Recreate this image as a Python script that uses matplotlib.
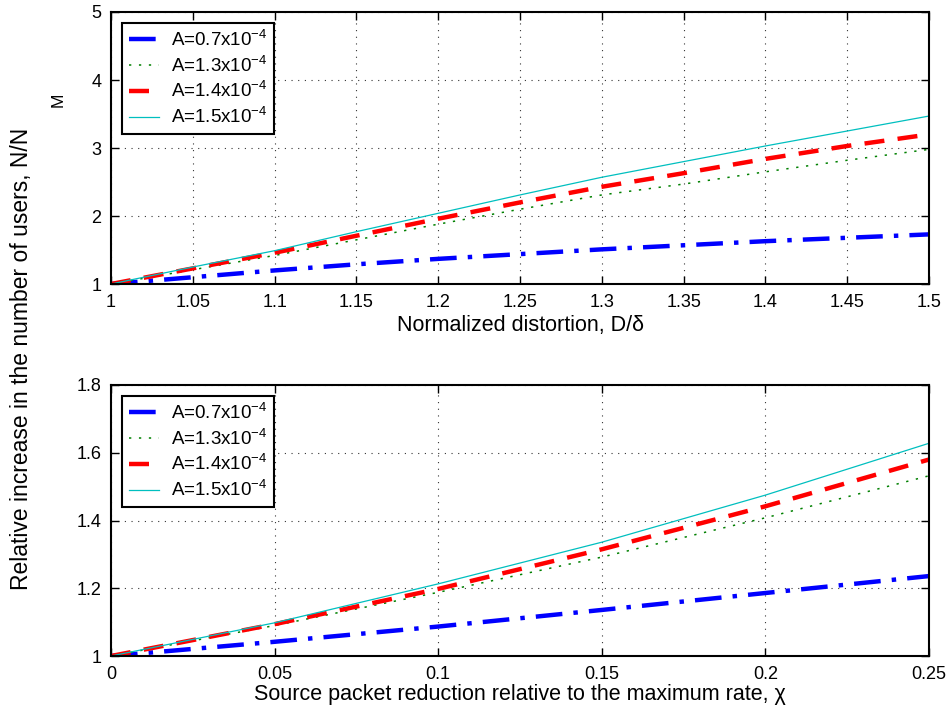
import numpy as np
import matplotlib
matplotlib.use("Agg")
import matplotlib.pyplot as plt

plt.rcParams['font.family'] = ['Liberation Sans', 'DejaVu Sans']
plt.rcParams['mathtext.fontset'] = 'custom'
plt.rcParams['mathtext.rm'] = 'Liberation Sans'
plt.rcParams['mathtext.it'] = 'Liberation Sans:italic'

# top panel: normalized distortion D/delta
dist = [1.0, 1.05, 1.1, 1.15, 1.2, 1.25, 1.3, 1.35, 1.4, 1.45, 1.5]
top_a07 = [1.0, 1.10, 1.20, 1.29, 1.37, 1.44, 1.51, 1.57, 1.63, 1.68, 1.73]
top_a13 = [1.0, 1.21, 1.42, 1.65, 1.88, 2.10, 2.31, 2.47, 2.65, 2.82, 2.98]
top_a14 = [1.0, 1.23, 1.46, 1.71, 1.96, 2.20, 2.43, 2.63, 2.84, 3.03, 3.20]
top_a15 = [1.0, 1.25, 1.49, 1.77, 2.04, 2.31, 2.57, 2.80, 3.03, 3.25, 3.47]

# bottom panel: source packet reduction chi
chi = [0.0, 0.05, 0.1, 0.15, 0.2, 0.25]
bot_a07 = [1.0, 1.042, 1.087, 1.136, 1.186, 1.236]
bot_a13 = [1.0, 1.090, 1.188, 1.292, 1.408, 1.532]
bot_a14 = [1.0, 1.094, 1.198, 1.315, 1.442, 1.580]
bot_a15 = [1.0, 1.098, 1.213, 1.336, 1.475, 1.628]

labels = [r'A=0.7x10$^{\mathregular{-4}}$', r'A=1.3x10$^{\mathregular{-4}}$',
          r'A=1.4x10$^{\mathregular{-4}}$', r'A=1.5x10$^{\mathregular{-4}}$']
colors = ['#0000ff', '#008000', '#ff0000', '#00bfbf']
styles = [(0, (6, 2.5, 1, 2.5)), (0, (1.5, 5)), (0, (4.5, 3)), '-']
widths = [3.2, 1.1, 3.2, 0.9]

fig = plt.figure(figsize=(9.51, 7.14), dpi=100)
ax1 = fig.add_axes([0.1167, 0.6022, 0.8602, 0.381])
ax2 = fig.add_axes([0.1167, 0.0812, 0.8602, 0.3796])

def draw(ax, x, series):
    for y, lab, c, ls, lw in zip(series, labels, colors, styles, widths):
        ax.plot(x, y, linestyle=ls, color=c, linewidth=lw, label=lab)
    ax.grid(True, linestyle=(0, (1, 5)), color='black', linewidth=0.8, alpha=0.8)
    ax.tick_params(direction='in', top=True, right=True, labelsize=13, length=6, width=1, pad=7)
    for s in ax.spines.values():
        s.set_linewidth(1.5)
    leg = ax.legend(loc='upper left', fontsize=13.5, fancybox=False, framealpha=1,
                    edgecolor='black', handlelength=1.6, handletextpad=0.65,
                    borderaxespad=0.6, labelspacing=0.3, borderpad=0.35)
    leg.get_frame().set_linewidth(1.5)

draw(ax1, dist, [top_a07, top_a13, top_a14, top_a15])
ax1.set_xlim(1, 1.5)
ax1.set_ylim(1, 5)
ax1.set_xticks(dist)
ax1.set_xticklabels(['1', '1.05', '1.1', '1.15', '1.2', '1.25', '1.3', '1.35', '1.4', '1.45', '1.5'])
ax1.set_yticks([1, 2, 3, 4, 5])
ax1.set_xlabel('Normalized distortion, D/\u03b4', fontsize=15.5, labelpad=3)

draw(ax2, chi, [bot_a07, bot_a13, bot_a14, bot_a15])
ax2.set_xlim(0, 0.25)
ax2.set_ylim(1, 1.8)
ax2.set_xticks(chi)
ax2.set_xticklabels(['0', '0.05', '0.1', '0.15', '0.2', '0.25'])
ax2.set_yticks([1, 1.2, 1.4, 1.6, 1.8])
ax2.set_yticklabels(['1', '1.2', '1.4', '1.6', '1.8'])
ax2.set_xlabel('Source packet reduction relative to the maximum rate, \u03c7', fontsize=15.5, labelpad=1)

fig.text(22 / 951, 1 - 590 / 714, 'Relative increase in the number of users, N/N',
         rotation=90, ha='center', va='bottom', fontsize=16.5)
fig.text(58 / 951, 1 - 100 / 714, 'M', rotation=90, ha='center', va='center', fontsize=12.5)

fig.savefig('out.png', dpi=100)
